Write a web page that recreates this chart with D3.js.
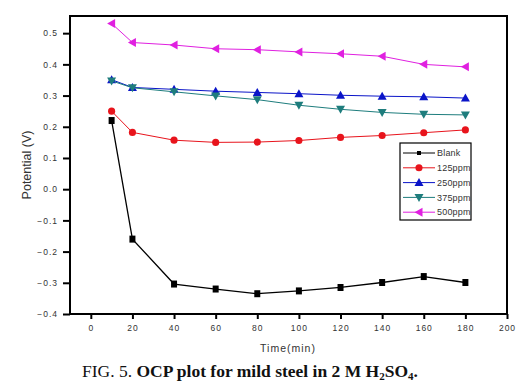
<!DOCTYPE html>
<html>
<head>
<meta charset="utf-8">
<script src="https://cdn.jsdelivr.net/npm/d3@7"></script>
<style>
  body { margin: 0; background: #fff; }
  svg text { font-family: "Liberation Sans", Arial, sans-serif; }
</style>
</head>
<body>
<div id="chart"></div>
<script>
// time points (min)
const times = [10, 20, 40, 60, 80, 100, 120, 140, 160, 180];
// potential (V) per inhibitor concentration
const blank = [0.22, -0.16, -0.304, -0.32, -0.335, -0.326, -0.315, -0.299, -0.28, -0.299];
const ppm125 = [0.25, 0.182, 0.157, 0.15, 0.151, 0.156, 0.166, 0.172, 0.181, 0.19];
const ppm250 = [0.351, 0.326, 0.32, 0.314, 0.31, 0.306, 0.301, 0.298, 0.296, 0.292];
const ppm375 = [0.347, 0.325, 0.312, 0.299, 0.287, 0.269, 0.256, 0.246, 0.24, 0.238];
const ppm500 = [0.531, 0.47, 0.462, 0.45, 0.447, 0.44, 0.434, 0.426, 0.40, 0.392];
const seriesNames = ["Blank", "125ppm", "250ppm", "375ppm", "500ppm"];
const xTicks = [0, 20, 40, 60, 80, 100, 120, 140, 160, 180, 200];
const yTicks = [-0.4, -0.3, -0.2, -0.1, 0.0, 0.1, 0.2, 0.3, 0.4, 0.5];

const series = [
    { name: seriesNames[0], values: blank, color: "#000000", shape: "square" },
    { name: seriesNames[1], values: ppm125, color: "#e8141c", shape: "circle" },
    { name: seriesNames[2], values: ppm250, color: "#0a14c8", shape: "up" },
    { name: seriesNames[3], values: ppm375, color: "#1e7d7d", shape: "down" },
    { name: seriesNames[4], values: ppm500, color: "#e020e0", shape: "left" }
];

const W = 521, H = 389;
const svg = d3.select("#chart").append("svg")
    .attr("width", W)
    .attr("height", H);

const x = d3.scaleLinear().domain([-10, 200]).range([70, 507]);
const y = d3.scaleLinear().domain([-0.4, 0.555]).range([314, 16]);

// marker path per shape
function markerPath(shape) {
    if (shape === "square") return "M-3,-3.5H3V3.5H-3Z";
    if (shape === "circle") return d3.symbol(d3.symbolCircle, 40)();
    if (shape === "up") return "M0,-4.5L4.5,3.5H-4.5Z";
    if (shape === "down") return "M0,4.5L4.5,-3.5H-4.5Z";
    if (shape === "left") return "M-4.5,0L3.5,-4.5V4.5Z";
}

// frame
svg.append("rect")
    .attr("x", 70).attr("y", 16)
    .attr("width", 437).attr("height", 298)
    .attr("fill", "none")
    .attr("stroke", "#000")
    .attr("stroke-width", 2);

// axes
const xAxis = svg.append("g")
    .attr("transform", "translate(0,314)")
    .call(d3.axisBottom(x).tickValues(xTicks).tickSize(5).tickFormat(d3.format("d")));
const yAxis = svg.append("g")
    .attr("transform", "translate(70,0)")
    .call(d3.axisLeft(y).tickValues(yTicks).tickSize(7).tickFormat(d3.format(".1f")));

[xAxis, yAxis].forEach(a => {
    a.select(".domain").remove();
    a.selectAll(".tick line").attr("stroke", "#000").attr("stroke-width", 2);
    a.selectAll(".tick text")
        .attr("fill", "#333")
        .style("font-size", "8.5px")
        .style("letter-spacing", "1px");
});
xAxis.selectAll(".tick text").attr("dy", "1.1em");
yAxis.selectAll(".tick text").attr("x", -12);

// axis titles
svg.append("text")
    .attr("transform", "translate(31,165) rotate(-90)")
    .attr("text-anchor", "middle")
    .style("font-size", "12.5px")
    .attr("fill", "#333")
    .text("Potential (V)");

svg.append("text")
    .attr("x", 288).attr("y", 352)
    .attr("text-anchor", "middle")
    .style("font-size", "10.5px")
    .style("letter-spacing", "1px")
    .attr("fill", "#333")
    .text("Time(min)");

// lines and markers
const line = d3.line()
    .x((d, i) => x(times[i]))
    .y(d => y(d));

const groups = svg.append("g").selectAll("g")
    .data(series)
    .enter()
    .append("g");

groups.append("path")
    .attr("d", d => line(d.values))
    .attr("fill", "none")
    .attr("stroke", d => d.color)
    .attr("stroke-width", d => d.shape === "square" ? 1.3 : 1);

groups.each(function(s) {
    d3.select(this).selectAll("path.m")
        .data(s.values)
        .enter()
        .append("path")
        .attr("class", "m")
        .attr("d", markerPath(s.shape))
        .attr("transform", (d, i) => "translate(" + x(times[i]) + "," + y(d) + ")")
        .attr("fill", s.color);
});

// legend
const legend = svg.append("g").attr("transform", "translate(400,143)");
legend.append("rect")
    .attr("width", 71).attr("height", 77)
    .attr("fill", "#fff")
    .attr("stroke", "#000")
    .attr("stroke-width", 1.2);

const rows = legend.selectAll("g.row")
    .data(series)
    .enter()
    .append("g")
    .attr("class", "row")
    .attr("transform", (d, i) => "translate(0," + (10 + i * 14.8) + ")");

rows.append("line")
    .attr("x1", 3).attr("x2", 35)
    .attr("stroke", d => d.color)
    .attr("stroke-width", 1);
rows.append("path")
    .attr("d", d => d.shape === "square" ? "M-2,-2H2V2H-2Z" : markerPath(d.shape))
    .attr("transform", "translate(19,0)")
    .attr("fill", d => d.color);
rows.append("text")
    .attr("x", 37).attr("dy", "0.35em")
    .style("font-size", "9px")
    .style("letter-spacing", "0.2px")
    .attr("fill", "#333")
    .text(d => d.name);

// caption
const cap = svg.append("text")
    .attr("x", 82).attr("y", 377)
    .style("font-family", "'Liberation Serif', 'Times New Roman', serif")
    .style("font-size", "17.5px")
    .attr("fill", "#111");
cap.append("tspan").text("FIG. 5. ");
const b = cap.append("tspan").style("font-weight", "bold");
b.append("tspan").text("OCP plot for mild steel in 2 M H");
b.append("tspan").style("font-size", "11px").attr("dy", 3).text("2");
b.append("tspan").attr("dy", -3).text("SO");
b.append("tspan").style("font-size", "11px").attr("dy", 3).text("4");
b.append("tspan").attr("dy", -3).text(".");
</script>
</body>
</html>
